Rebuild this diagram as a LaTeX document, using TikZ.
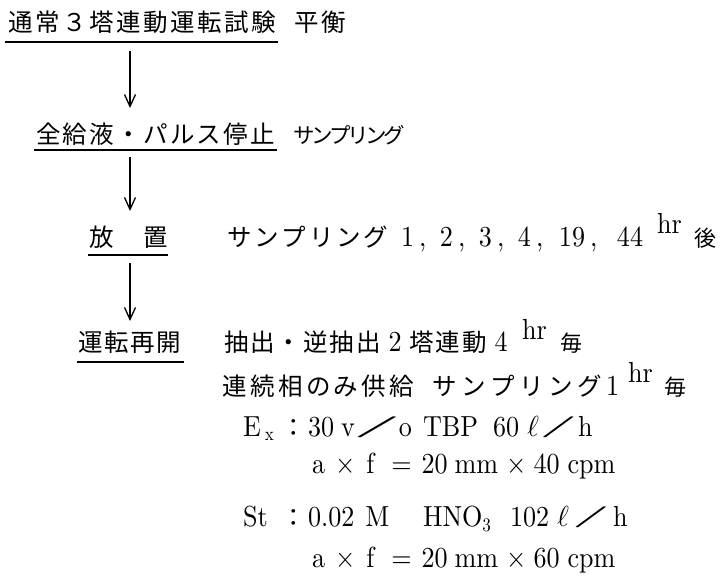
\RequirePackage{fix-cm}
\documentclass[tikz,border=0pt]{standalone}
\usepackage{fontspec}
\usepackage{graphicx}
\setmainfont{lmroman10-regular.otf}[FakeStretch=0.9]
\newfontfamily\jp{Noto Sans CJK JP}
\usetikzlibrary{arrows.meta}
\newlength\jw
\makeatletter
\def\jsp@#1{\ifx\relax#1\else\makebox[\jw]{#1}\expandafter\jsp@\fi}
\newcommand\jt[2]{{\jp\setlength\jw{#1}\jsp@#2\relax}}
\makeatother
\newcommand\lmsz{\fontsize{29}{30}\selectfont}
\newcommand\jpsz{\fontsize{24.5}{26}\selectfont}
\newcommand\cma{\hspace{5pt},}
\newcommand\fslash[2]{\makebox[#1]{\raisebox{4pt}{\scalebox{#2}[0.72]{/}}}}
\newcommand\smk[1]{{\jp\fontsize{22}{22}\selectfont #1}}
\newcommand\lit{\ensuremath{\fontsize{26}{28}\selectfont\ell}}
\tikzset{
  txt/.style={inner sep=0pt, outer sep=0pt, anchor=base west, font=\lmsz},
  jtx/.style={inner sep=0pt, outer sep=0pt, anchor=base west, font=\jpsz},
  ul/.style={line width=1.8pt},
  arr/.style={line width=1.3pt, -{Straight Barb[length=12pt,width=11pt]}}
}
\begin{document}
\begin{tikzpicture}[x=1pt,y=-1pt]
\useasboundingbox (0,0) rectangle (723,576);
% line 1
\node[jtx] (t1) at (7,31) {\jt{27pt}{通常３塔連動運転試験}};
\node[jtx] (b1) at (293,31) {\jt{27pt}{平衡}};
\coordinate (u1a) at (5,42); \coordinate (u1b) at (278,42);
\draw[ul] (u1a) -- (u1b);
\coordinate (a1s) at (130,51); \coordinate (a1e) at (130,108);
\draw[arr] (a1s) -- (a1e);
% line 2
\node[jtx] (t2) at (35,143) {\jt{26.8pt}{全給液・パルス停止}};
\node[jtx,font=\fontsize{21.5}{23}\selectfont] (b2) at (295,143) {\jt{18pt}{サンプリング}};
\coordinate (u2a) at (34,150); \coordinate (u2b) at (277,150);
\draw[ul] (u2a) -- (u2b);
\coordinate (a2s) at (130,157); \coordinate (a2e) at (130,211);
\draw[arr] (a2s) -- (a2e);
% line 3
\node[jtx] (t3) at (88,246) {\jp\makebox[27pt]{放}\hspace{27pt}\makebox[27pt]{置}};
\node[jtx] (b3) at (226,246) {\jt{27.3pt}{サンプリング}};
\node[txt] (n3) at (401,246) {\makebox[39pt][l]{1\cma}\makebox[39pt][l]{2\cma}\makebox[39pt][l]{3\cma}\makebox[41pt][l]{4\cma}\makebox[58pt][l]{19\cma}44\hspace{14pt}\raisebox{13pt}{hr}\hspace{13pt}\smk{後}};
\coordinate (u3a) at (88,255); \coordinate (u3b) at (168,255);
\draw[ul] (u3a) -- (u3b);
\coordinate (a3s) at (130,263); \coordinate (a3e) at (130,321);
\draw[arr] (a3s) -- (a3e);
% line 4
\node[jtx] (t4) at (78,351) {\jt{26pt}{運転再開}};
\node[txt] (b4) at (223,351) {{\jpsz\jt{26.5pt}{抽出・逆抽出}}\makebox[26.5pt]{2}{\jpsz\jt{26.5pt}{塔連動}}\makebox[26.5pt]{4}\hspace{7.5pt}\raisebox{12pt}{hr}\hspace{14pt}\smk{毎}};
\coordinate (u4a) at (77,362); \coordinate (u4b) at (184,362);
\draw[ul] (u4a) -- (u4b);
% line 5
\node[jtx] (r5) at (221,395) {\jt{27.8pt}{連続相のみ供給}};
\node[txt] (s5) at (430,395) {{\jpsz\jt{29pt}{サンプリング}}\hspace{2pt}1\hspace{9pt}\raisebox{13pt}{hr}\hspace{12pt}\smk{毎}};
% Ex
\node[txt] (ex) at (243,436) {E\hspace{4pt}\raisebox{-4pt}{\fontsize{19}{19}\selectfont x}};
\node[jtx] (exc) at (281,436) {\jp ：};
\node[txt] (ex2) at (308,436) {30\hspace{7pt}v\fslash{44pt}{3.8}o};
\node[txt] (ex3) at (423,436) {TBP};
\node[txt] (ex4) at (493,436) {60\hspace{8pt}\lit\fslash{39pt}{3}h};
\node[txt] (af1) at (312,473) {a\hspace{10pt}×\hspace{11pt}f\hspace{17pt}=\hspace{10pt}20\hspace{7pt}mm\hspace{8pt}×\hspace{7pt}40\hspace{8pt}cpm};
% St
\node[txt] (st) at (243,526) {St};
\node[jtx] (stc) at (281,526) {\jp ：};
\node[txt] (st2) at (308,526) {0.02\hspace{11pt}M};
\node[txt] (st3) at (423,526) {HNO\raisebox{-5pt}{\fontsize{19}{19}\selectfont 3}};
\node[txt] (st4) at (510,526) {102\hspace{8pt}\lit\fslash{44pt}{3}h};
\node[txt] (af2) at (312,567) {a\hspace{10pt}×\hspace{11pt}f\hspace{17pt}=\hspace{10pt}20\hspace{7pt}mm\hspace{8pt}×\hspace{7pt}60\hspace{8pt}cpm};
\end{tikzpicture}
\end{document}
